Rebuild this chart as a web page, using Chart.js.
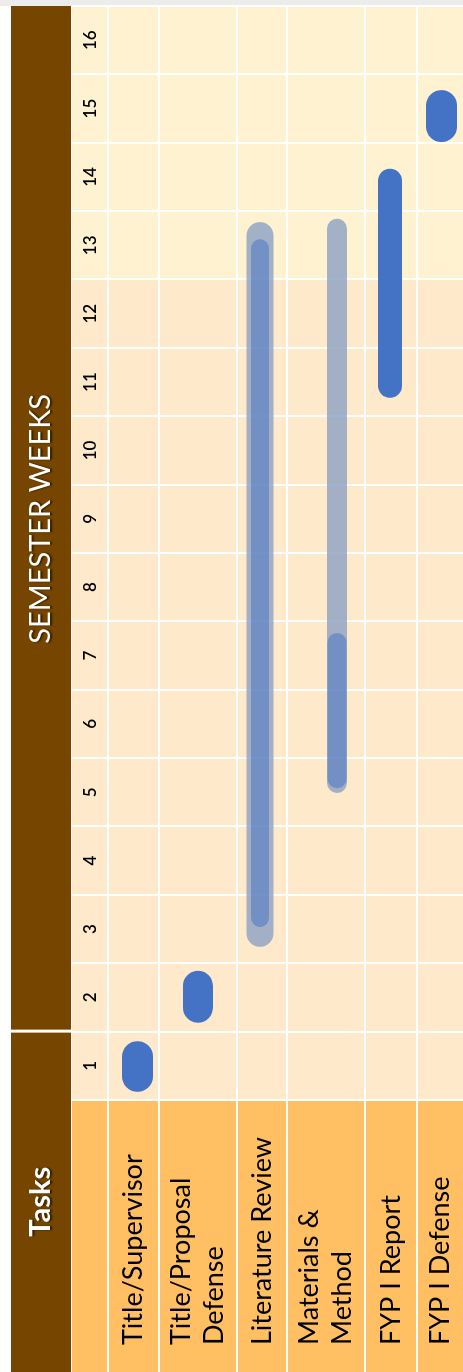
<!DOCTYPE html>
<html>
<head>
<meta charset="utf-8">
<title>FYP I Gantt</title>
<script src="https://cdn.jsdelivr.net/npm/chart.js@4.4.1/dist/chart.umd.min.js"></script>
<style>
    html, body { margin: 0; padding: 0; overflow: hidden; background: #ffffff; }
    /* the table is drawn the normal way round, then turned a quarter left */
    #wrap {
        position: absolute;
        left: 0;
        top: 0;
        width: 1372px;
        height: 463px;
        transform-origin: 0 0;
        transform: translate(0, 1372px) rotate(-90deg);
    }
</style>
</head>
<body>
<div id="wrap"><canvas id="ganttChart" width="1372" height="463"></canvas></div>
<script>
// rows and columns
const taskLabels = ["Title/Supervisor", ["Title/Proposal", "Defense"], "Literature Review", ["Materials &", "Method"], "FYP I Report", "FYP I Defense"];
const weekLabels = ["1", "2", "3", "4", "5", "6", "7", "8", "9", "10", "11", "12", "13", "14", "15", "16"];

// main bars, in weeks from the start of week 1
const barStart = [0.12, 1.13, 2.53, 4.56, 10.27, 14.01];
const barEnd = [0.86, 1.89, 12.59, 6.83, 13.62, 14.77];

// faded bars behind literature review and materials & method
const spanStart = [null, null, 2.24, 4.49, null, null];
const spanEnd = [null, null, 12.84, 12.89, null, null];

// layout
const rowHeights = [51, 78, 50, 78, 52, 46];
const barShift = [4, 0, -2, 11, -1, 1.5];
const barWidth = [31, 30, 18, 19, 24, 31];
const spanWidth = [0, 0, 27, 20, 0, 0];
const barColor = ["#4472c4", "#4472c4", "rgba(68,114,196,0.5)", "rgba(68,114,196,0.5)", "#4472c4", "#4472c4"];
const W = 1372, H = 463;
const padLeft = 27;
const labelColW = 272;
const headTop = 11;
const weekRowTop = 72;
const weekRowH = 36;
const lightFrom = 12; // weeks 13-16 have the lighter fill

const rowEdges = [0];
rowHeights.forEach(h => rowEdges.push(rowEdges[rowEdges.length - 1] + h));
const rowTotal = rowEdges[rowEdges.length - 1];
const rowCenters = rowHeights.map((h, i) => rowEdges[i] + h / 2);

const datasets = [];
taskLabels.forEach((t, i) => {
    const pos = rowCenters[i] + barShift[i];
    datasets.push({
        label: Array.isArray(t) ? t.join(" ") : t,
        data: [{ x: [barStart[i], barEnd[i]], y: pos }],
        backgroundColor: barColor[i],
        maxBarThickness: barWidth[i],
        order: 0
    });
    if (spanStart[i] !== null) {
        datasets.push({
            label: "span",
            data: [{ x: [spanStart[i], spanEnd[i]], y: pos }],
            backgroundColor: "rgba(140,160,195,0.8)",
            maxBarThickness: spanWidth[i],
            order: 1
        });
    }
});

// cell fills and the brown header
const tableBackground = {
    id: "tableBackground",
    beforeDraw(chart) {
        const c = chart.ctx;
        const area = chart.chartArea;
        const xs = chart.scales.x;
        const split = xs.getPixelForValue(lightFrom);
        const week2 = xs.getPixelForValue(1);
        c.save();
        c.fillStyle = "#ffffff";
        c.fillRect(0, 0, W, H);
        c.fillStyle = "#ececec";
        c.fillRect(area.right, 0, W - area.right, H);

        c.fillStyle = "#764600";
        c.fillRect(0, headTop, week2 - 1, weekRowTop - 1 - headTop);
        c.fillRect(week2 + 2, headTop, area.right - week2 - 2, weekRowTop - 1 - headTop);

        c.fillStyle = "#ffbf62";
        c.fillRect(0, weekRowTop, area.left, H - weekRowTop);
        c.fillStyle = "#fee9ca";
        c.fillRect(area.left, weekRowTop, split - area.left, H - weekRowTop);
        c.fillStyle = "#fff2d1";
        c.fillRect(split, weekRowTop, area.right - split, H - weekRowTop);

        const midY = (headTop + weekRowTop - 1) / 2;
        c.fillStyle = "#ffffff";
        c.textAlign = "center";
        c.textBaseline = "middle";
        c.shadowColor = "rgba(0,0,0,0.6)";
        c.shadowOffsetY = 2;
        c.shadowBlur = 2;
        c.font = "bold 29px Lato";
        c.fillText("Tasks", week2 / 2, midY);
        c.font = "29px Lato";
        c.fillText("SEMESTER WEEKS", (week2 + area.right) / 2, midY);
        c.restore();
    }
};

const ctx = document.getElementById("ganttChart").getContext("2d");

new Chart(ctx, {
    type: "bar",
    data: { datasets: datasets },
    plugins: [tableBackground],
    options: {
        indexAxis: "y",
        responsive: false,
        animation: false,
        events: [],
        layout: { padding: { left: padLeft, right: W - 1366, top: weekRowTop, bottom: 0 } },
        datasets: {
            bar: {
                grouped: false,
                barPercentage: 1,
                categoryPercentage: 1,
                borderSkipped: false,
                borderRadius: 40,
                inflateAmount: 0,
                xAxisID: "x",
                yAxisID: "yl"
            }
        },
        plugins: {
            legend: { display: false },
            tooltip: { enabled: false }
        },
        scales: {
            x: {
                type: "linear",
                position: "top",
                min: 0,
                max: 16,
                grid: { color: "#ffffff", lineWidth: 2, tickLength: weekRowH, tickColor: "#ffffff", tickWidth: 2 },
                border: { display: false },
                ticks: {
                    stepSize: 1,
                    autoSkip: false,
                    maxRotation: 0,
                    labelOffset: (1366 - labelColW) / 16 / 2,
                    padding: -29,
                    color: "#000000",
                    font: { family: "Lato", size: 17, weight: "600" },
                    callback: v => weekLabels[v] ?? ""
                },
                afterFit: s => { s.height = weekRowH; }
            },
            // row lines, running through the label column too
            y: {
                type: "linear",
                position: "left",
                reverse: true,
                offset: false,
                min: 0,
                max: rowTotal,
                weight: 0,
                afterBuildTicks: s => { s.ticks = rowEdges.slice(0, -1).map(v => ({ value: v })); },
                grid: { offset: false, color: "#ffffff", lineWidth: 2, tickLength: labelColW, tickColor: "#ffffff", tickWidth: 2 },
                border: { display: false },
                ticks: { display: false },
                afterFit: s => { s.width = 0; }
            },
            // task names at the row centres
            yl: {
                type: "linear",
                axis: "y",
                position: "left",
                reverse: true,
                offset: false,
                min: 0,
                max: rowTotal,
                weight: 1,
                afterBuildTicks: s => { s.ticks = rowCenters.map(v => ({ value: v })); },
                grid: { display: false, offset: false },
                border: { display: false },
                ticks: {
                    autoSkip: false,
                    crossAlign: "far",
                    padding: 0,
                    color: "#000000",
                    font: { family: "Lato", size: 27, lineHeight: 1.22 },
                    callback: (v, i) => taskLabels[i]
                },
                afterFit: s => {
                    s.width = labelColW - padLeft;
                    // labels sit inside their rows, no extra room needed
                    s.paddingTop = 0;
                    s.paddingBottom = 0;
                }
            }
        }
    }
});
</script>
</body>
</html>
